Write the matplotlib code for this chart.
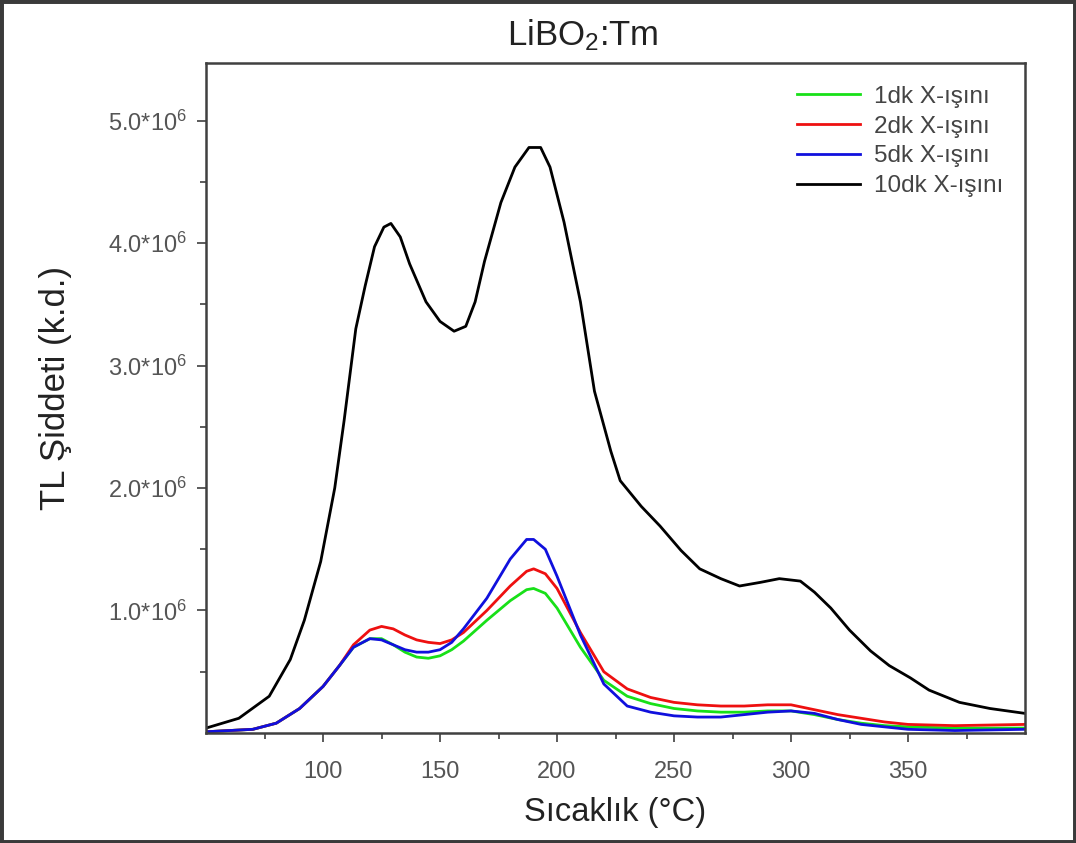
import numpy as np
import matplotlib
matplotlib.use('Agg')
import matplotlib.pyplot as plt
from matplotlib.patches import Rectangle
from matplotlib.ticker import FixedLocator, FuncFormatter

plt.rcParams['font.family'] = ['Liberation Sans', 'DejaVu Sans']
plt.rcParams['mathtext.fontset'] = 'custom'
plt.rcParams['mathtext.rm'] = 'Liberation Sans'
plt.rcParams['mathtext.it'] = 'Liberation Sans:italic'

# Temperature (°C) and TL intensity (x1e6)
temp_10dk = [50, 64, 77, 86, 92, 99, 105, 109, 114, 118, 122, 126, 129, 133, 137, 144, 150,
             156, 161, 165, 169, 176, 182, 188, 193, 197, 203, 210, 216, 223, 227, 236, 244,
             253, 261, 270, 278, 287, 295, 304, 310, 317, 325, 334, 342, 351, 359, 372, 385, 400]
tl_10dk = [0.04, 0.12, 0.30, 0.60, 0.92, 1.40, 2.00, 2.55, 3.30, 3.65, 3.97, 4.13, 4.16, 4.05,
           3.83, 3.52, 3.36, 3.28, 3.32, 3.52, 3.85, 4.33, 4.62, 4.78, 4.78, 4.62, 4.17, 3.52,
           2.79, 2.30, 2.06, 1.85, 1.69, 1.49, 1.34, 1.26, 1.20, 1.23, 1.26, 1.24, 1.15, 1.02,
           0.84, 0.67, 0.55, 0.45, 0.35, 0.25, 0.20, 0.16]

temp_low = [50, 60, 70, 80, 90, 100, 107, 113, 120, 125, 130, 135, 140, 145, 150, 155, 160,
            170, 180, 187, 190, 195, 200, 210, 220, 230, 240, 250, 260, 270, 280, 290, 300,
            310, 320, 330, 340, 350, 370, 400]
tl_1dk = [0.01, 0.02, 0.03, 0.08, 0.20, 0.38, 0.55, 0.70, 0.77, 0.77, 0.72, 0.66, 0.62, 0.61,
          0.63, 0.68, 0.75, 0.92, 1.08, 1.17, 1.18, 1.14, 1.02, 0.70, 0.43, 0.30, 0.24, 0.20,
          0.18, 0.17, 0.17, 0.18, 0.18, 0.15, 0.11, 0.08, 0.06, 0.05, 0.04, 0.04]
tl_2dk = [0.01, 0.02, 0.03, 0.08, 0.20, 0.38, 0.55, 0.72, 0.84, 0.87, 0.85, 0.80, 0.76, 0.74,
          0.73, 0.76, 0.82, 1.00, 1.20, 1.32, 1.34, 1.30, 1.18, 0.82, 0.50, 0.36, 0.29, 0.25,
          0.23, 0.22, 0.22, 0.23, 0.23, 0.19, 0.15, 0.12, 0.09, 0.07, 0.06, 0.07]
tl_5dk = [0.01, 0.02, 0.03, 0.08, 0.20, 0.38, 0.55, 0.70, 0.77, 0.76, 0.72, 0.68, 0.66, 0.66,
          0.68, 0.74, 0.85, 1.10, 1.42, 1.58, 1.58, 1.50, 1.28, 0.80, 0.40, 0.22, 0.17, 0.14,
          0.13, 0.13, 0.15, 0.17, 0.18, 0.16, 0.11, 0.07, 0.05, 0.03, 0.02, 0.03]

labels = ['1dk X-ışını', '2dk X-ışını', '5dk X-ışını', '10dk X-ışını']
colors = ['#18e018', '#ee1010', '#1010dd', '#000000']

fig = plt.figure(figsize = (10.76, 8.43), dpi = 100)
ax = fig.add_axes([0.1915, 0.1305, 0.7611, 0.7948])

series = [(temp_low, tl_1dk), (temp_low, tl_2dk), (temp_low, tl_5dk), (temp_10dk, tl_10dk)]
for (t, v), label, color in zip(series, labels, colors):
    ax.plot(t, np.array(v) * 1e6, color = color, linewidth = 2.0, label = label)

ax.set_xlim(50, 400)
ax.set_ylim(0, 5.47e6)

ax.xaxis.set_major_locator(FixedLocator([100, 150, 200, 250, 300, 350]))
ax.xaxis.set_minor_locator(FixedLocator([75, 125, 175, 225, 275, 325, 375]))
ax.yaxis.set_major_locator(FixedLocator([1e6, 2e6, 3e6, 4e6, 5e6]))
ax.yaxis.set_minor_locator(FixedLocator([0.5e6, 1.5e6, 2.5e6, 3.5e6, 4.5e6]))
ax.yaxis.set_major_formatter(FuncFormatter(lambda v, p: f'{v / 1e6:.1f}*10$^{{6}}$'))

ax.tick_params(axis = 'both', which = 'major', direction = 'out', length = 6.5, width = 1.2,
               color = '#404040', labelsize = 17, labelcolor = '#555555')
ax.tick_params(axis = 'y', which = 'major', pad = 7)
ax.tick_params(axis = 'x', which = 'major', pad = 14)
ax.tick_params(axis = 'both', which = 'minor', direction = 'out', length = 4.5, width = 1.2,
               color = '#404040')
for spine in ax.spines.values():
    spine.set_color('#404040')
    spine.set_linewidth(1.8)

fig.text(615 / 1076, 1 - 812 / 843, 'Sıcaklık (°C)', ha = 'center', va = 'center',
         fontsize = 23.5, color = '#222222')
fig.text(56 / 1076, 1 - 388 / 843, 'TL Şiddeti (k.d.)', ha = 'center', va = 'center',
         rotation = 90, fontsize = 25, color = '#222222')
fig.text(583 / 1076, 1 - 45 / 843, 'LiBO$_2$:Tm', ha = 'center', va = 'baseline',
         fontsize = 25, color = '#222222')

leg = ax.legend(loc = 'upper right', frameon = False, fontsize = 17.5, handlelength = 2.6,
                handletextpad = 0.6, labelspacing = 0.32, borderpad = 0, borderaxespad = 0,
                bbox_to_anchor = (0.974, 0.966))
for txt in leg.get_texts():
    txt.set_color('#444444')

fig.patches.append(Rectangle((0, 0), 1, 1, transform = fig.transFigure, fill = False,
                             edgecolor = '#3a3a3a', linewidth = 5))

fig.savefig('out.png', dpi = 100)
